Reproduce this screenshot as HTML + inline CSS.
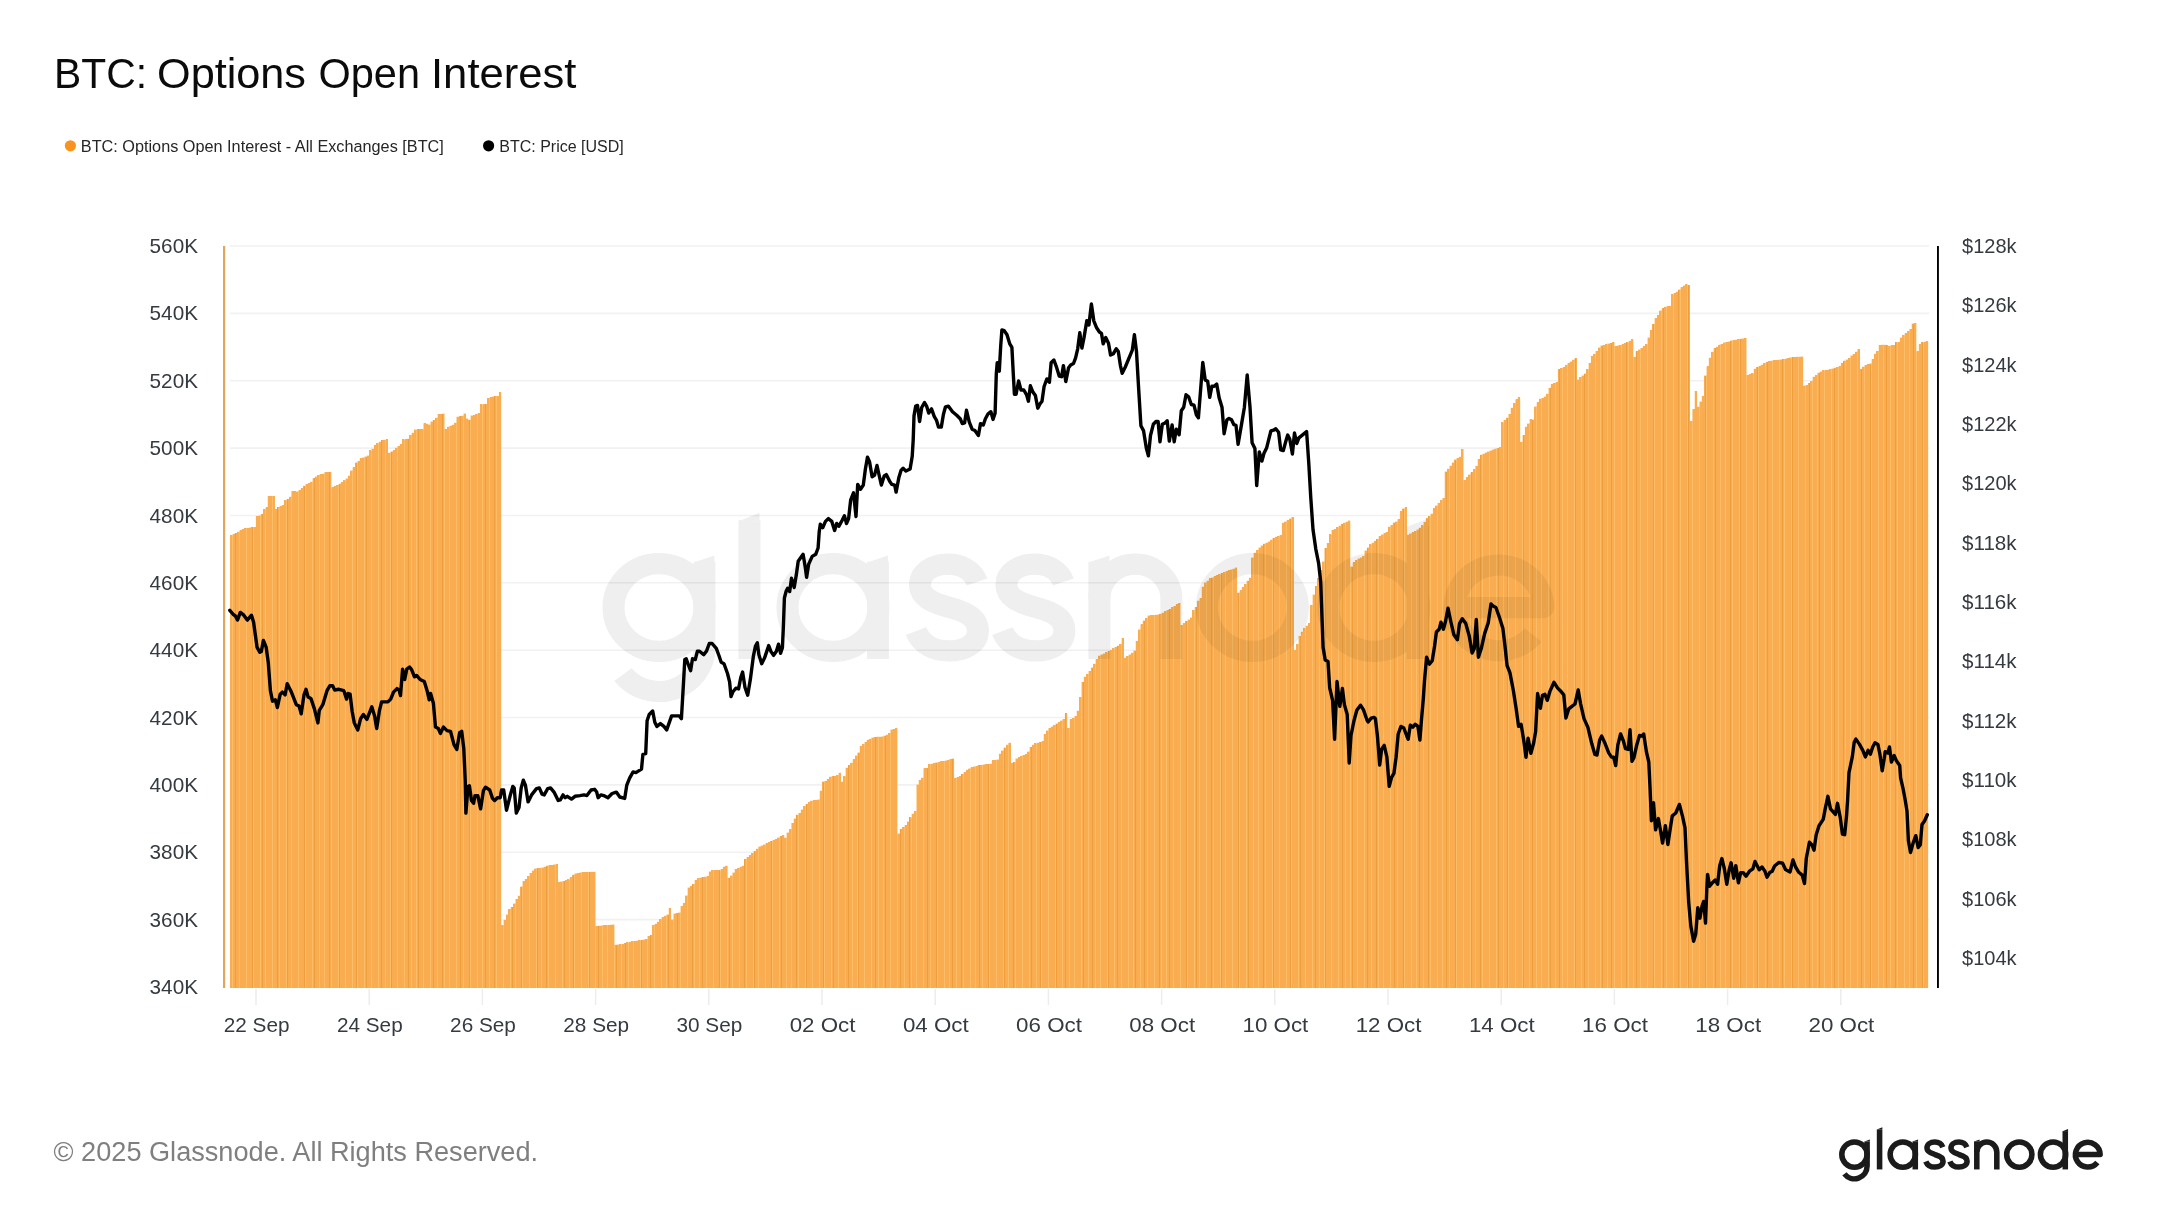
<!DOCTYPE html>
<html><head><meta charset="utf-8"><title>BTC: Options Open Interest</title>
<style>
html,body{margin:0;padding:0;background:#fff;}
body{width:2160px;height:1215px;overflow:hidden;font-family:"Liberation Sans",sans-serif;}
svg{position:absolute;left:0;top:0;display:block;will-change:transform}
text{font-family:"Liberation Sans",sans-serif;}
</style></head><body>
<svg width="2160" height="1215" viewBox="0 0 2160 1215">
<defs><symbol id="gn" viewBox="0 0 2160 648" overflow="visible">
<g fill="none" stroke="currentColor" stroke-linecap="butt" stroke-linejoin="round">
<circle cx="248" cy="321" r="91"/>
<path d="M339,226 V404 A91,91 0 0 1 176,460"/>
<path d="M429,140 V428"/>
<circle cx="596" cy="321" r="91"/>
<path d="M686,226 V428"/>
<path d="M884,268 C875,243 852,231 826,231 C795,231 770,248 770,274 C770,300 795,311 826,320 C860,329 886,341 886,369 C886,396 860,411 828,411 C796,411 772,396 762,370"/>
<path d="M1057,268 C1048,243 1025,231 999,231 C968,231 943,248 943,274 C943,300 968,311 999,320 C1033,329 1059,341 1059,369 C1059,396 1033,411 1001,411 C969,411 945,396 935,370"/>
<path d="M1129,226 V428"/>
<path d="M1129,303 A72,72 0 0 1 1273,303 V428"/>
<circle cx="1435" cy="321" r="91"/>
<circle cx="1678" cy="321" r="91"/>
<path d="M1766,152 V428"/>
<path d="M1841,321 H2017 A89,89 0 1 0 1997,378"/>
</g>
<g fill="currentColor" stroke="none">
<path d="M319,227 H359 V213 Z"/>
<path d="M409,141 H449 V125 Z"/>
<path d="M666,227 H706 V213 Z"/>
<path d="M1109,227 H1149 V213 Z"/>
<path d="M1746,153 H1786 V137 Z"/>
</g>
</symbol></defs>
<g font-size="42.7" fill="#0b0b0b">
<text x="54" y="87.5" textLength="93" lengthAdjust="spacingAndGlyphs">BTC:</text>
<text x="157" y="87.5" textLength="149" lengthAdjust="spacingAndGlyphs">Options</text>
<text x="318.5" y="87.5" textLength="101.5" lengthAdjust="spacingAndGlyphs">Open</text>
<text x="431" y="87.5" textLength="145.5" lengthAdjust="spacingAndGlyphs">Interest</text>
</g>
<circle cx="70.4" cy="145.8" r="5.6" fill="#f8931f"/>
<text x="80.8" y="151.5" font-size="17.1" fill="#262626" textLength="363" lengthAdjust="spacingAndGlyphs">BTC: Options Open Interest - All Exchanges [BTC]</text>
<circle cx="488.6" cy="145.8" r="5.6" fill="#000"/>
<text x="499.3" y="151.5" font-size="17.1" fill="#262626" textLength="124.5" lengthAdjust="spacingAndGlyphs">BTC: Price [USD]</text>
<g stroke="#f1f1f3" stroke-width="1.6"><line x1="230" x2="1929" y1="246" y2="246"/><line x1="230" x2="1929" y1="313.4" y2="313.4"/><line x1="230" x2="1929" y1="380.7" y2="380.7"/><line x1="230" x2="1929" y1="448.1" y2="448.1"/><line x1="230" x2="1929" y1="515.5" y2="515.5"/><line x1="230" x2="1929" y1="582.8" y2="582.8"/><line x1="230" x2="1929" y1="650.2" y2="650.2"/><line x1="230" x2="1929" y1="717.5" y2="717.5"/><line x1="230" x2="1929" y1="784.9" y2="784.9"/><line x1="230" x2="1929" y1="852.3" y2="852.3"/><line x1="230" x2="1929" y1="919.6" y2="919.6"/></g>
<g stroke="#ededf0" stroke-width="1.5"><line x1="256" x2="256" y1="989" y2="1005"/><line x1="369.2" x2="369.2" y1="989" y2="1005"/><line x1="482.4" x2="482.4" y1="989" y2="1005"/><line x1="595.6" x2="595.6" y1="989" y2="1005"/><line x1="708.8" x2="708.8" y1="989" y2="1005"/><line x1="822" x2="822" y1="989" y2="1005"/><line x1="935.2" x2="935.2" y1="989" y2="1005"/><line x1="1048.4" x2="1048.4" y1="989" y2="1005"/><line x1="1161.6" x2="1161.6" y1="989" y2="1005"/><line x1="1274.8" x2="1274.8" y1="989" y2="1005"/><line x1="1388" x2="1388" y1="989" y2="1005"/><line x1="1501.2" x2="1501.2" y1="989" y2="1005"/><line x1="1614.4" x2="1614.4" y1="989" y2="1005"/><line x1="1727.6" x2="1727.6" y1="989" y2="1005"/><line x1="1840.8" x2="1840.8" y1="989" y2="1005"/></g>
<g color="#000" opacity="0.009" stroke-width="44" transform="translate(535,452.8) scale(0.4999,0.482)"><use href="#gn" width="2160" height="648"/></g>
<path d="M230,988 V535.4 H232.4 V534.2 H234.7 V532.9 H237.1 V531.7 H239.4 V530.3 H241.8 V528.9 H244.2 V528.1 H246.5 V527.9 H248.9 V527.6 H251.2 V527.3 H253.6 V527 H255.9 V516.4 H258.3 V515.6 H260.7 V514.3 H263 V509.4 H265.4 V507.4 H267.7 V496 H270.1 V496 H272.5 V496 H274.8 V509.3 H277.2 V506.9 H279.5 V506.1 H281.9 V505.1 H284.2 V500.3 H286.6 V499 H289 V496.8 H291.3 V491.2 H293.7 V491.2 H296 V491.5 H298.4 V490.1 H300.8 V488.4 H303.1 V485.7 H305.5 V483.9 H307.8 V483.3 H310.2 V481.8 H312.6 V478.3 H314.9 V476.5 H317.3 V474.9 H319.6 V474.3 H322 V473.7 H324.3 V472.3 H326.7 V472.3 H329.1 V472.3 H331.4 V487.4 H333.8 V486.2 H336.1 V485 H338.5 V483.7 H340.9 V482.1 H343.2 V480.4 H345.6 V478.6 H347.9 V475.7 H350.3 V470.6 H352.6 V467.4 H355 V462.5 H357.4 V461.2 H359.7 V458.3 H362.1 V457.5 H364.4 V456.6 H366.8 V455.5 H369.2 V450.4 H371.5 V448.7 H373.9 V445 H376.2 V443.4 H378.6 V441.7 H381 V440.1 H383.3 V439.7 H385.7 V439.4 H388 V452.7 H390.4 V451.6 H392.7 V450.4 H395.1 V447.8 H397.5 V446.1 H399.8 V444.3 H402.2 V439.4 H404.5 V439.2 H406.9 V438.8 H409.3 V435.1 H411.6 V432.7 H414 V429.6 H416.3 V429.4 H418.7 V429.2 H421 V428.9 H423.4 V423.3 H425.8 V423.8 H428.1 V424.5 H430.5 V421.6 H432.8 V419.9 H435.2 V417.7 H437.6 V414.1 H439.9 V413.9 H442.3 V413.5 H444.6 V429.1 H447 V426.7 H449.4 V425.8 H451.7 V424.8 H454.1 V422.8 H456.4 V416.8 H458.8 V416.3 H461.1 V415.8 H463.5 V413.5 H465.9 V418.6 H468.2 V419.8 H470.6 V415.6 H472.9 V414.9 H475.3 V414.1 H477.7 V413.3 H480 V404.4 H482.4 V404.2 H484.7 V403.9 H487.1 V398.1 H489.4 V397.4 H491.8 V396.5 H494.2 V396 H496.5 V396 H498.9 V392.3 H501.2 V925 H503.6 V920.1 H506 V914.5 H508.3 V909 H510.7 V906.9 H513 V903.5 H515.4 V899 H517.8 V895.8 H520.1 V886.5 H522.5 V881 H524.8 V879 H527.2 V876.1 H529.5 V873.1 H531.9 V870.6 H534.3 V868.5 H536.6 V868.2 H539 V867.9 H541.3 V867.5 H543.7 V866.8 H546.1 V865.8 H548.4 V865.2 H550.8 V864.9 H553.1 V864.6 H555.5 V864.3 H557.8 V882.1 H560.2 V881.6 H562.6 V881 H564.9 V880.2 H567.3 V879.4 H569.6 V877.4 H572 V874.7 H574.4 V873.6 H576.7 V872.9 H579.1 V872.6 H581.4 V872.3 H583.8 V872 H586.2 V871.9 H588.5 V871.9 H590.9 V871.8 H593.2 V871.7 H595.6 V926.1 H597.9 V925.8 H600.3 V925.6 H602.7 V925.3 H605 V925.2 H607.4 V925 H609.7 V924.8 H612.1 V924.6 H614.5 V944.8 H616.8 V944.5 H619.2 V944.3 H621.5 V944 H623.9 V943.2 H626.2 V942.4 H628.6 V941.7 H631 V941.3 H633.3 V941 H635.7 V940.7 H638 V940.3 H640.4 V939.9 H642.8 V939.5 H645.1 V939.1 H647.5 V936 H649.8 V934.9 H652.2 V925.1 H654.6 V923.7 H656.9 V921.8 H659.3 V919.1 H661.6 V917 H664 V915.8 H666.3 V914.5 H668.7 V908 H671.1 V919.5 H673.4 V913.5 H675.8 V913 H678.1 V912.5 H680.5 V906.1 H682.9 V903.2 H685.2 V895.6 H687.6 V887.5 H689.9 V886.2 H692.3 V884 H694.6 V880.1 H697 V878.1 H699.4 V877.6 H701.7 V877.2 H704.1 V876.7 H706.4 V876.2 H708.8 V871.6 H711.2 V869.9 H713.5 V870 H715.9 V870.1 H718.2 V870.2 H720.6 V869.2 H722.9 V866.7 H725.3 V865.7 H727.7 V877.7 H730 V875.5 H732.4 V872.5 H734.7 V869 H737.1 V867.9 H739.5 V866.8 H741.8 V865.7 H744.2 V859.2 H746.5 V856.9 H748.9 V854.9 H751.3 V853 H753.6 V851.1 H756 V848.8 H758.3 V846.6 H760.7 V845.6 H763 V844.6 H765.4 V843.4 H767.8 V842.4 H770.1 V841.2 H772.5 V840.1 H774.8 V838.9 H777.2 V837.6 H779.6 V836.3 H781.9 V835 H784.3 V837.7 H786.6 V832.6 H789 V829 H791.3 V823 H793.7 V818.6 H796.1 V814.7 H798.4 V812.9 H800.8 V809.5 H803.1 V806.2 H805.5 V804.2 H807.9 V802.4 H810.2 V800.7 H812.6 V800.4 H814.9 V800 H817.3 V799.6 H819.7 V790.7 H822 V781.5 H824.4 V780.9 H826.7 V779.3 H829.1 V776.8 H831.4 V776.4 H833.8 V776 H836.2 V775.3 H838.5 V772.8 H840.9 V781.7 H843.2 V776.3 H845.6 V767.8 H848 V765.1 H850.3 V762.7 H852.7 V759.4 H855 V755.5 H857.4 V752.5 H859.7 V746.1 H862.1 V744.2 H864.5 V742 H866.8 V739.8 H869.2 V738.8 H871.5 V737.5 H873.9 V737.2 H876.3 V736.7 H878.6 V736.7 H881 V736.5 H883.3 V735.7 H885.7 V734.8 H888.1 V732.9 H890.4 V729.5 H892.8 V728.9 H895.1 V728.3 H897.5 V833.6 H899.8 V829 H902.2 V827 H904.6 V824.9 H906.9 V821.6 H909.3 V817.4 H911.6 V813.7 H914 V811.2 H916.4 V784.6 H918.7 V780.1 H921.1 V777.7 H923.4 V768.4 H925.8 V767.9 H928.1 V764.2 H930.5 V763.7 H932.9 V763 H935.2 V762.6 H937.6 V762.1 H939.9 V761.3 H942.3 V761 H944.7 V760.5 H947 V760 H949.4 V759.1 H951.7 V758.5 H954.1 V777.9 H956.5 V777.1 H958.8 V775.9 H961.2 V774.2 H963.5 V772.3 H965.9 V769.7 H968.2 V768.5 H970.6 V767.4 H973 V766.5 H975.3 V766 H977.7 V765.2 H980 V765 H982.4 V764.6 H984.8 V764.1 H987.1 V764 H989.5 V763.8 H991.8 V760.4 H994.2 V760 H996.5 V759.5 H998.9 V753.8 H1001.3 V750.6 H1003.6 V747.6 H1006 V744.8 H1008.3 V742.7 H1010.7 V763.3 H1013.1 V762.2 H1015.4 V758.5 H1017.8 V757.3 H1020.1 V756 H1022.5 V755.1 H1024.9 V754 H1027.2 V751.6 H1029.6 V747.2 H1031.9 V744.8 H1034.3 V743.4 H1036.6 V742.7 H1039 V742.1 H1041.4 V741.4 H1043.7 V734.1 H1046.1 V730.6 H1048.4 V728.1 H1050.8 V726.6 H1053.2 V725.1 H1055.5 V723.5 H1057.9 V722 H1060.2 V720.5 H1062.6 V719 H1064.9 V713.4 H1067.3 V728.1 H1069.7 V719.3 H1072 V718 H1074.4 V716.2 H1076.7 V710.7 H1079.1 V697.2 H1081.5 V682.1 H1083.8 V676.7 H1086.2 V674 H1088.5 V671 H1090.9 V667.5 H1093.3 V663.7 H1095.6 V659.2 H1098 V655.7 H1100.3 V654.6 H1102.7 V653.6 H1105 V652.4 H1107.4 V651.2 H1109.8 V649.9 H1112.1 V648.4 H1114.5 V647 H1116.8 V645.8 H1119.2 V644.2 H1121.6 V638.3 H1123.9 V657.8 H1126.3 V656.1 H1128.6 V654.5 H1131 V652.7 H1133.3 V650.5 H1135.7 V641.1 H1138.1 V629.6 H1140.4 V624.4 H1142.8 V620.6 H1145.1 V618.3 H1147.5 V615.5 H1149.9 V615.3 H1152.2 V615.1 H1154.6 V614.8 H1156.9 V614.5 H1159.3 V613.8 H1161.7 V612.7 H1164 V611.3 H1166.4 V610.3 H1168.7 V608.9 H1171.1 V607.1 H1173.4 V606 H1175.8 V604.4 H1178.2 V602.9 H1180.5 V624.9 H1182.9 V623 H1185.2 V621.2 H1187.6 V619.6 H1190 V617.6 H1192.3 V610.3 H1194.7 V607.1 H1197 V600.7 H1199.4 V598.3 H1201.7 V586.8 H1204.1 V582.5 H1206.5 V580.7 H1208.8 V578.4 H1211.2 V577.6 H1213.5 V576.4 H1215.9 V574.9 H1218.3 V574.2 H1220.6 V573.2 H1223 V572.2 H1225.3 V571.3 H1227.7 V570.4 H1230.1 V569.5 H1232.4 V568.7 H1234.8 V567.6 H1237.1 V592.8 H1239.5 V590.4 H1241.8 V587.4 H1244.2 V583.9 H1246.6 V580.8 H1248.9 V577.8 H1251.3 V557.6 H1253.6 V552.7 H1256 V549.9 H1258.4 V547.5 H1260.7 V545.5 H1263.1 V543.8 H1265.4 V542.8 H1267.8 V541.6 H1270.1 V539.7 H1272.5 V537.9 H1274.9 V536.7 H1277.2 V535.9 H1279.6 V535.1 H1281.9 V522.8 H1284.3 V521.5 H1286.7 V520.1 H1289 V518.6 H1291.4 V517 H1293.7 V649.9 H1296.1 V644.3 H1298.5 V635.9 H1300.8 V631.8 H1303.2 V628.2 H1305.5 V625.8 H1307.9 V623.2 H1310.2 V604.9 H1312.6 V594.6 H1315 V586.4 H1317.3 V578.2 H1319.7 V570.3 H1322 V561.6 H1324.4 V548 H1326.8 V543 H1329.1 V534.4 H1331.5 V530.2 H1333.8 V528.9 H1336.2 V527.4 H1338.5 V525.7 H1340.9 V523.9 H1343.3 V522.8 H1345.6 V521.7 H1348 V520.5 H1350.3 V566.6 H1352.7 V562.3 H1355.1 V560.2 H1357.4 V558.5 H1359.8 V557.5 H1362.1 V556.1 H1364.5 V550.5 H1366.9 V547.6 H1369.2 V544.4 H1371.6 V542.8 H1373.9 V541.1 H1376.3 V539.1 H1378.6 V536.4 H1381 V534.5 H1383.4 V533.3 H1385.7 V532.1 H1388.1 V526.7 H1390.4 V525.1 H1392.8 V522.5 H1395.2 V521.5 H1397.5 V519.3 H1399.9 V511.4 H1402.2 V508.6 H1404.6 V507.4 H1406.9 V534.7 H1409.3 V533.5 H1411.7 V532.3 H1414 V531 H1416.4 V529.5 H1418.7 V527.8 H1421.1 V525.4 H1423.5 V521.9 H1425.8 V518 H1428.2 V516.3 H1430.5 V513.7 H1432.9 V507.9 H1435.3 V505.6 H1437.6 V503 H1440 V500.2 H1442.3 V498.3 H1444.7 V471.5 H1447 V468.8 H1449.4 V465.8 H1451.8 V462.6 H1454.1 V459.5 H1456.5 V458.1 H1458.8 V456.7 H1461.2 V449.1 H1463.6 V480 H1465.9 V477 H1468.3 V474.6 H1470.6 V472.2 H1473 V469.3 H1475.3 V465.9 H1477.7 V458.9 H1480.1 V454.7 H1482.4 V453.7 H1484.8 V452.6 H1487.1 V451.5 H1489.5 V450.5 H1491.9 V449.6 H1494.2 V448.7 H1496.6 V447.9 H1498.9 V447 H1501.3 V422.4 H1503.6 V420.1 H1506 V417.7 H1508.4 V413.9 H1510.7 V407.7 H1513.1 V403 H1515.4 V399.4 H1517.8 V397.3 H1520.2 V442.1 H1522.5 V435.2 H1524.9 V426.7 H1527.2 V423.6 H1529.6 V419 H1532 V419.5 H1534.3 V406.5 H1536.7 V402.4 H1539 V398.7 H1541.4 V398 H1543.7 V396.6 H1546.1 V393.8 H1548.5 V387.7 H1550.8 V384 H1553.2 V383 H1555.5 V381.9 H1557.9 V368.9 H1560.3 V368.1 H1562.6 V367.2 H1565 V365.4 H1567.3 V363.4 H1569.7 V361.5 H1572 V359.8 H1574.4 V358.4 H1576.8 V379.5 H1579.1 V377 H1581.5 V375.6 H1583.8 V373.5 H1586.2 V369.2 H1588.6 V363 H1590.9 V355.9 H1593.3 V354.1 H1595.6 V351 H1598 V347.5 H1600.4 V345.6 H1602.7 V345.1 H1605.1 V344.3 H1607.4 V343.5 H1609.8 V342.9 H1612.1 V342.1 H1614.5 V346 H1616.9 V345.6 H1619.2 V345.1 H1621.6 V344.3 H1623.9 V343.3 H1626.3 V342.2 H1628.7 V340.8 H1631 V339.4 H1633.4 V357.1 H1635.7 V351.2 H1638.1 V349.6 H1640.4 V347.9 H1642.8 V346.3 H1645.2 V344.2 H1647.5 V337.6 H1649.9 V330 H1652.2 V323.9 H1654.6 V318.3 H1657 V314.9 H1659.3 V310.6 H1661.7 V308.4 H1664 V306.7 H1666.4 V306.4 H1668.8 V306.2 H1671.1 V294.2 H1673.5 V293 H1675.8 V291.7 H1678.2 V289.6 H1680.5 V287.3 H1682.9 V285.5 H1685.3 V284.3 H1687.6 V284.9 H1690 V421.1 H1692.3 V409.2 H1694.7 V391 H1697.1 V406.7 H1699.4 V401.5 H1701.8 V395.9 H1704.1 V375.6 H1706.5 V366.4 H1708.8 V357.8 H1711.2 V351.7 H1713.6 V348.4 H1715.9 V346.7 H1718.3 V344.8 H1720.6 V343.9 H1723 V342.6 H1725.4 V342.1 H1727.7 V341.5 H1730.1 V340.6 H1732.4 V340.2 H1734.8 V339.7 H1737.2 V339 H1739.5 V338.8 H1741.9 V338.5 H1744.2 V338.1 H1746.6 V375.1 H1748.9 V374.3 H1751.3 V373.4 H1753.7 V368.8 H1756 V367.3 H1758.4 V365.9 H1760.7 V364.7 H1763.1 V363.3 H1765.5 V362.4 H1767.8 V361.1 H1770.2 V360.8 H1772.5 V360.4 H1774.9 V360 H1777.2 V359.8 H1779.6 V359.6 H1782 V359.3 H1784.3 V358.7 H1786.7 V358.1 H1789 V357.6 H1791.4 V357.3 H1793.8 V357 H1796.1 V356.8 H1798.5 V356.7 H1800.8 V356.6 H1803.2 V385.6 H1805.6 V385.2 H1807.9 V383.4 H1810.3 V380.9 H1812.6 V376.8 H1815 V375.2 H1817.3 V372.8 H1819.7 V371.5 H1822.1 V370.4 H1824.4 V370.1 H1826.8 V369.7 H1829.1 V369.3 H1831.5 V368.6 H1833.9 V367.8 H1836.2 V367.1 H1838.6 V366.1 H1840.9 V363.4 H1843.3 V360.7 H1845.6 V359.5 H1848 V358.1 H1850.4 V355.5 H1852.7 V353.9 H1855.1 V351.8 H1857.4 V349.3 H1859.8 V368.9 H1862.2 V366.7 H1864.5 V365 H1866.9 V364.1 H1869.2 V363.6 H1871.6 V359.2 H1874 V353.7 H1876.3 V351 H1878.7 V345.3 H1881 V344.8 H1883.4 V344.8 H1885.7 V345.3 H1888.1 V345.7 H1890.5 V345.4 H1892.8 V345.1 H1895.2 V342.4 H1897.5 V342.1 H1899.9 V337.6 H1902.3 V335.3 H1904.6 V333.2 H1907 V330.9 H1909.3 V328.9 H1911.7 V323.6 H1914 V323 H1916.4 V351.3 H1918.8 V344 H1921.1 V342.4 H1923.5 V341.7 H1925.8 V341.2 H1928.2 V988 Z" fill="#fdbd66"/>
<path d="M230,988V535.4h2V988zM233,988V534.2h2V988zM235,988V532.9h2V988zM237,988V531.7h2V988zM240,988V530.3h2V988zM242,988V528.9h2V988zM244,988V528.1h2V988zM247,988V527.9h2V988zM249,988V527.6h2V988zM251,988V527.3h2V988zM254,988V527h2V988zM256,988V516.4h2V988zM258,988V515.6h2V988zM261,988V514.3h2V988zM263,988V509.4h2V988zM266,988V507.4h2V988zM268,988V496h2V988zM270,988V496h2V988zM273,988V496h2V988zM275,988V509.3h2V988zM277,988V506.9h2V988zM280,988V506.1h2V988zM282,988V505.1h2V988zM284,988V500.3h2V988zM287,988V499h2V988zM289,988V496.8h2V988zM292,988V491.2h2V988zM294,988V491.2h2V988zM296,988V491.5h2V988zM299,988V490.1h2V988zM301,988V488.4h2V988zM303,988V485.7h2V988zM306,988V483.9h2V988zM308,988V483.3h2V988zM310,988V481.8h2V988zM313,988V478.3h2V988zM315,988V476.5h2V988zM317,988V474.9h2V988zM320,988V474.3h2V988zM322,988V473.7h2V988zM325,988V472.3h2V988zM327,988V472.3h2V988zM329,988V472.3h2V988zM332,988V487.4h2V988zM334,988V486.2h2V988zM336,988V485h2V988zM339,988V483.7h2V988zM341,988V482.1h2V988zM343,988V480.4h2V988zM346,988V478.6h2V988zM348,988V475.7h2V988zM350,988V470.6h2V988zM353,988V467.4h2V988zM355,988V462.5h2V988zM358,988V461.2h2V988zM360,988V458.3h2V988zM362,988V457.5h2V988zM365,988V456.6h2V988zM367,988V455.5h2V988zM369,988V450.4h2V988zM372,988V448.7h2V988zM374,988V445h2V988zM376,988V443.4h2V988zM379,988V441.7h2V988zM381,988V440.1h2V988zM383,988V439.7h2V988zM386,988V439.4h2V988zM388,988V452.7h2V988zM391,988V451.6h2V988zM393,988V450.4h2V988zM395,988V447.8h2V988zM398,988V446.1h2V988zM400,988V444.3h2V988zM402,988V439.4h2V988zM405,988V439.2h2V988zM407,988V438.8h2V988zM409,988V435.1h2V988zM412,988V432.7h2V988zM414,988V429.6h2V988zM417,988V429.4h2V988zM419,988V429.2h2V988zM421,988V428.9h2V988zM424,988V423.3h2V988zM426,988V423.8h2V988zM428,988V424.5h2V988zM431,988V421.6h2V988zM433,988V419.9h2V988zM435,988V417.7h2V988zM438,988V414.1h2V988zM440,988V413.9h2V988zM442,988V413.5h2V988zM445,988V429.1h2V988zM447,988V426.7h2V988zM450,988V425.8h2V988zM452,988V424.8h2V988zM454,988V422.8h2V988zM457,988V416.8h2V988zM459,988V416.3h2V988zM461,988V415.8h2V988zM464,988V413.5h2V988zM466,988V418.6h2V988zM468,988V419.8h2V988zM471,988V415.6h2V988zM473,988V414.9h2V988zM475,988V414.1h2V988zM478,988V413.3h2V988zM480,988V404.4h2V988zM483,988V404.2h2V988zM485,988V403.9h2V988zM487,988V398.1h2V988zM490,988V397.4h2V988zM492,988V396.5h2V988zM494,988V396h2V988zM497,988V396h2V988zM499,988V392.3h2V988zM501,988V925h2V988zM504,988V920.1h2V988zM506,988V914.5h2V988zM508,988V909h2V988zM511,988V906.9h2V988zM513,988V903.5h2V988zM516,988V899h2V988zM518,988V895.8h2V988zM520,988V886.5h2V988zM523,988V881h2V988zM525,988V879h2V988zM527,988V876.1h2V988zM530,988V873.1h2V988zM532,988V870.6h2V988zM534,988V868.5h2V988zM537,988V868.2h2V988zM539,988V867.9h2V988zM542,988V867.5h2V988zM544,988V866.8h2V988zM546,988V865.8h2V988zM549,988V865.2h2V988zM551,988V864.9h2V988zM553,988V864.6h2V988zM556,988V864.3h2V988zM558,988V882.1h2V988zM560,988V881.6h2V988zM563,988V881h2V988zM565,988V880.2h2V988zM567,988V879.4h2V988zM570,988V877.4h2V988zM572,988V874.7h2V988zM575,988V873.6h2V988zM577,988V872.9h2V988zM579,988V872.6h2V988zM582,988V872.3h2V988zM584,988V872h2V988zM586,988V871.9h2V988zM589,988V871.9h2V988zM591,988V871.8h2V988zM593,988V871.7h2V988zM596,988V926.1h2V988zM598,988V925.8h2V988zM600,988V925.6h2V988zM603,988V925.3h2V988zM605,988V925.2h2V988zM608,988V925h2V988zM610,988V924.8h2V988zM612,988V924.6h2V988zM615,988V944.8h2V988zM617,988V944.5h2V988zM619,988V944.3h2V988zM622,988V944h2V988zM624,988V943.2h2V988zM626,988V942.4h2V988zM629,988V941.7h2V988zM631,988V941.3h2V988zM634,988V941h2V988zM636,988V940.7h2V988zM638,988V940.3h2V988zM641,988V939.9h2V988zM643,988V939.5h2V988zM645,988V939.1h2V988zM648,988V936h2V988zM650,988V934.9h2V988zM652,988V925.1h2V988zM655,988V923.7h2V988zM657,988V921.8h2V988zM659,988V919.1h2V988zM662,988V917h2V988zM664,988V915.8h2V988zM667,988V914.5h2V988zM669,988V908h2V988zM671,988V919.5h2V988zM674,988V913.5h2V988zM676,988V913h2V988zM678,988V912.5h2V988zM681,988V906.1h2V988zM683,988V903.2h2V988zM685,988V895.6h2V988zM688,988V887.5h2V988zM690,988V886.2h2V988zM692,988V884h2V988zM695,988V880.1h2V988zM697,988V878.1h2V988zM700,988V877.6h2V988zM702,988V877.2h2V988zM704,988V876.7h2V988zM707,988V876.2h2V988zM709,988V871.6h2V988zM711,988V869.9h2V988zM714,988V870h2V988zM716,988V870.1h2V988zM718,988V870.2h2V988zM721,988V869.2h2V988zM723,988V866.7h2V988zM725,988V865.7h2V988zM728,988V877.7h2V988zM730,988V875.5h2V988zM733,988V872.5h2V988zM735,988V869h2V988zM737,988V867.9h2V988zM740,988V866.8h2V988zM742,988V865.7h2V988zM744,988V859.2h2V988zM747,988V856.9h2V988zM749,988V854.9h2V988zM751,988V853h2V988zM754,988V851.1h2V988zM756,988V848.8h2V988zM759,988V846.6h2V988zM761,988V845.6h2V988zM763,988V844.6h2V988zM766,988V843.4h2V988zM768,988V842.4h2V988zM770,988V841.2h2V988zM773,988V840.1h2V988zM775,988V838.9h2V988zM777,988V837.6h2V988zM780,988V836.3h2V988zM782,988V835h2V988zM784,988V837.7h2V988zM787,988V832.6h2V988zM789,988V829h2V988zM792,988V823h2V988zM794,988V818.6h2V988zM796,988V814.7h2V988zM799,988V812.9h2V988zM801,988V809.5h2V988zM803,988V806.2h2V988zM806,988V804.2h2V988zM808,988V802.4h2V988zM810,988V800.7h2V988zM813,988V800.4h2V988zM815,988V800h2V988zM817,988V799.6h2V988zM820,988V790.7h2V988zM822,988V781.5h2V988zM825,988V780.9h2V988zM827,988V779.3h2V988zM829,988V776.8h2V988zM832,988V776.4h2V988zM834,988V776h2V988zM836,988V775.3h2V988zM839,988V772.8h2V988zM841,988V781.7h2V988zM843,988V776.3h2V988zM846,988V767.8h2V988zM848,988V765.1h2V988zM850,988V762.7h2V988zM853,988V759.4h2V988zM855,988V755.5h2V988zM858,988V752.5h2V988zM860,988V746.1h2V988zM862,988V744.2h2V988zM865,988V742h2V988zM867,988V739.8h2V988zM869,988V738.8h2V988zM872,988V737.5h2V988zM874,988V737.2h2V988zM876,988V736.7h2V988zM879,988V736.7h2V988zM881,988V736.5h2V988zM884,988V735.7h2V988zM886,988V734.8h2V988zM888,988V732.9h2V988zM891,988V729.5h2V988zM893,988V728.9h2V988zM895,988V728.3h2V988zM898,988V833.6h2V988zM900,988V829h2V988zM902,988V827h2V988zM905,988V824.9h2V988zM907,988V821.6h2V988zM909,988V817.4h2V988zM912,988V813.7h2V988zM914,988V811.2h2V988zM917,988V784.6h2V988zM919,988V780.1h2V988zM921,988V777.7h2V988zM924,988V768.4h2V988zM926,988V767.9h2V988zM928,988V764.2h2V988zM931,988V763.7h2V988zM933,988V763h2V988zM935,988V762.6h2V988zM938,988V762.1h2V988zM940,988V761.3h2V988zM942,988V761h2V988zM945,988V760.5h2V988zM947,988V760h2V988zM950,988V759.1h2V988zM952,988V758.5h2V988zM954,988V777.9h2V988zM957,988V777.1h2V988zM959,988V775.9h2V988zM961,988V774.2h2V988zM964,988V772.3h2V988zM966,988V769.7h2V988zM968,988V768.5h2V988zM971,988V767.4h2V988zM973,988V766.5h2V988zM976,988V766h2V988zM978,988V765.2h2V988zM980,988V765h2V988zM983,988V764.6h2V988zM985,988V764.1h2V988zM987,988V764h2V988zM990,988V763.8h2V988zM992,988V760.4h2V988zM994,988V760h2V988zM997,988V759.5h2V988zM999,988V753.8h2V988zM1001,988V750.6h2V988zM1004,988V747.6h2V988zM1006,988V744.8h2V988zM1009,988V742.7h2V988zM1011,988V763.3h2V988zM1013,988V762.2h2V988zM1016,988V758.5h2V988zM1018,988V757.3h2V988zM1020,988V756h2V988zM1023,988V755.1h2V988zM1025,988V754h2V988zM1027,988V751.6h2V988zM1030,988V747.2h2V988zM1032,988V744.8h2V988zM1034,988V743.4h2V988zM1037,988V742.7h2V988zM1039,988V742.1h2V988zM1042,988V741.4h2V988zM1044,988V734.1h2V988zM1046,988V730.6h2V988zM1049,988V728.1h2V988zM1051,988V726.6h2V988zM1053,988V725.1h2V988zM1056,988V723.5h2V988zM1058,988V722h2V988zM1060,988V720.5h2V988zM1063,988V719h2V988zM1065,988V713.4h2V988zM1067,988V728.1h2V988zM1070,988V719.3h2V988zM1072,988V718h2V988zM1075,988V716.2h2V988zM1077,988V710.7h2V988zM1079,988V697.2h2V988zM1082,988V682.1h2V988zM1084,988V676.7h2V988zM1086,988V674h2V988zM1089,988V671h2V988zM1091,988V667.5h2V988zM1093,988V663.7h2V988zM1096,988V659.2h2V988zM1098,988V655.7h2V988zM1101,988V654.6h2V988zM1103,988V653.6h2V988zM1105,988V652.4h2V988zM1108,988V651.2h2V988zM1110,988V649.9h2V988zM1112,988V648.4h2V988zM1115,988V647h2V988zM1117,988V645.8h2V988zM1119,988V644.2h2V988zM1122,988V638.3h2V988zM1124,988V657.8h2V988zM1126,988V656.1h2V988zM1129,988V654.5h2V988zM1131,988V652.7h2V988zM1134,988V650.5h2V988zM1136,988V641.1h2V988zM1138,988V629.6h2V988zM1141,988V624.4h2V988zM1143,988V620.6h2V988zM1145,988V618.3h2V988zM1148,988V615.5h2V988zM1150,988V615.3h2V988zM1152,988V615.1h2V988zM1155,988V614.8h2V988zM1157,988V614.5h2V988zM1159,988V613.8h2V988zM1162,988V612.7h2V988zM1164,988V611.3h2V988zM1167,988V610.3h2V988zM1169,988V608.9h2V988zM1171,988V607.1h2V988zM1174,988V606h2V988zM1176,988V604.4h2V988zM1178,988V602.9h2V988zM1181,988V624.9h2V988zM1183,988V623h2V988zM1185,988V621.2h2V988zM1188,988V619.6h2V988zM1190,988V617.6h2V988zM1192,988V610.3h2V988zM1195,988V607.1h2V988zM1197,988V600.7h2V988zM1200,988V598.3h2V988zM1202,988V586.8h2V988zM1204,988V582.5h2V988zM1207,988V580.7h2V988zM1209,988V578.4h2V988zM1211,988V577.6h2V988zM1214,988V576.4h2V988zM1216,988V574.9h2V988zM1218,988V574.2h2V988zM1221,988V573.2h2V988zM1223,988V572.2h2V988zM1226,988V571.3h2V988zM1228,988V570.4h2V988zM1230,988V569.5h2V988zM1233,988V568.7h2V988zM1235,988V567.6h2V988zM1237,988V592.8h2V988zM1240,988V590.4h2V988zM1242,988V587.4h2V988zM1244,988V583.9h2V988zM1247,988V580.8h2V988zM1249,988V577.8h2V988zM1251,988V557.6h2V988zM1254,988V552.7h2V988zM1256,988V549.9h2V988zM1259,988V547.5h2V988zM1261,988V545.5h2V988zM1263,988V543.8h2V988zM1266,988V542.8h2V988zM1268,988V541.6h2V988zM1270,988V539.7h2V988zM1273,988V537.9h2V988zM1275,988V536.7h2V988zM1277,988V535.9h2V988zM1280,988V535.1h2V988zM1282,988V522.8h2V988zM1284,988V521.5h2V988zM1287,988V520.1h2V988zM1289,988V518.6h2V988zM1292,988V517h2V988zM1294,988V649.9h2V988zM1296,988V644.3h2V988zM1299,988V635.9h2V988zM1301,988V631.8h2V988zM1303,988V628.2h2V988zM1306,988V625.8h2V988zM1308,988V623.2h2V988zM1310,988V604.9h2V988zM1313,988V594.6h2V988zM1315,988V586.4h2V988zM1317,988V578.2h2V988zM1320,988V570.3h2V988zM1322,988V561.6h2V988zM1325,988V548h2V988zM1327,988V543h2V988zM1329,988V534.4h2V988zM1332,988V530.2h2V988zM1334,988V528.9h2V988zM1336,988V527.4h2V988zM1339,988V525.7h2V988zM1341,988V523.9h2V988zM1343,988V522.8h2V988zM1346,988V521.7h2V988zM1348,988V520.5h2V988zM1351,988V566.6h2V988zM1353,988V562.3h2V988zM1355,988V560.2h2V988zM1358,988V558.5h2V988zM1360,988V557.5h2V988zM1362,988V556.1h2V988zM1365,988V550.5h2V988zM1367,988V547.6h2V988zM1369,988V544.4h2V988zM1372,988V542.8h2V988zM1374,988V541.1h2V988zM1376,988V539.1h2V988zM1379,988V536.4h2V988zM1381,988V534.5h2V988zM1384,988V533.3h2V988zM1386,988V532.1h2V988zM1388,988V526.7h2V988zM1391,988V525.1h2V988zM1393,988V522.5h2V988zM1395,988V521.5h2V988zM1398,988V519.3h2V988zM1400,988V511.4h2V988zM1402,988V508.6h2V988zM1405,988V507.4h2V988zM1407,988V534.7h2V988zM1409,988V533.5h2V988zM1412,988V532.3h2V988zM1414,988V531h2V988zM1417,988V529.5h2V988zM1419,988V527.8h2V988zM1421,988V525.4h2V988zM1424,988V521.9h2V988zM1426,988V518h2V988zM1428,988V516.3h2V988zM1431,988V513.7h2V988zM1433,988V507.9h2V988zM1435,988V505.6h2V988zM1438,988V503h2V988zM1440,988V500.2h2V988zM1443,988V498.3h2V988zM1445,988V471.5h2V988zM1447,988V468.8h2V988zM1450,988V465.8h2V988zM1452,988V462.6h2V988zM1454,988V459.5h2V988zM1457,988V458.1h2V988zM1459,988V456.7h2V988zM1461,988V449.1h2V988zM1464,988V480h2V988zM1466,988V477h2V988zM1468,988V474.6h2V988zM1471,988V472.2h2V988zM1473,988V469.3h2V988zM1476,988V465.9h2V988zM1478,988V458.9h2V988zM1480,988V454.7h2V988zM1483,988V453.7h2V988zM1485,988V452.6h2V988zM1487,988V451.5h2V988zM1490,988V450.5h2V988zM1492,988V449.6h2V988zM1494,988V448.7h2V988zM1497,988V447.9h2V988zM1499,988V447h2V988zM1501,988V422.4h2V988zM1504,988V420.1h2V988zM1506,988V417.7h2V988zM1509,988V413.9h2V988zM1511,988V407.7h2V988zM1513,988V403h2V988zM1516,988V399.4h2V988zM1518,988V397.3h2V988zM1520,988V442.1h2V988zM1523,988V435.2h2V988zM1525,988V426.7h2V988zM1527,988V423.6h2V988zM1530,988V419h2V988zM1532,988V419.5h2V988zM1534,988V406.5h2V988zM1537,988V402.4h2V988zM1539,988V398.7h2V988zM1542,988V398h2V988zM1544,988V396.6h2V988zM1546,988V393.8h2V988zM1549,988V387.7h2V988zM1551,988V384h2V988zM1553,988V383h2V988zM1556,988V381.9h2V988zM1558,988V368.9h2V988zM1560,988V368.1h2V988zM1563,988V367.2h2V988zM1565,988V365.4h2V988zM1568,988V363.4h2V988zM1570,988V361.5h2V988zM1572,988V359.8h2V988zM1575,988V358.4h2V988zM1577,988V379.5h2V988zM1579,988V377h2V988zM1582,988V375.6h2V988zM1584,988V373.5h2V988zM1586,988V369.2h2V988zM1589,988V363h2V988zM1591,988V355.9h2V988zM1593,988V354.1h2V988zM1596,988V351h2V988zM1598,988V347.5h2V988zM1601,988V345.6h2V988zM1603,988V345.1h2V988zM1605,988V344.3h2V988zM1608,988V343.5h2V988zM1610,988V342.9h2V988zM1612,988V342.1h2V988zM1615,988V346h2V988zM1617,988V345.6h2V988zM1619,988V345.1h2V988zM1622,988V344.3h2V988zM1624,988V343.3h2V988zM1626,988V342.2h2V988zM1629,988V340.8h2V988zM1631,988V339.4h2V988zM1634,988V357.1h2V988zM1636,988V351.2h2V988zM1638,988V349.6h2V988zM1641,988V347.9h2V988zM1643,988V346.3h2V988zM1645,988V344.2h2V988zM1648,988V337.6h2V988zM1650,988V330h2V988zM1652,988V323.9h2V988zM1655,988V318.3h2V988zM1657,988V314.9h2V988zM1659,988V310.6h2V988zM1662,988V308.4h2V988zM1664,988V306.7h2V988zM1667,988V306.4h2V988zM1669,988V306.2h2V988zM1671,988V294.2h2V988zM1674,988V293h2V988zM1676,988V291.7h2V988zM1678,988V289.6h2V988zM1681,988V287.3h2V988zM1683,988V285.5h2V988zM1685,988V284.3h2V988zM1688,988V284.9h2V988zM1690,988V421.1h2V988zM1693,988V409.2h2V988zM1695,988V391h2V988zM1697,988V406.7h2V988zM1700,988V401.5h2V988zM1702,988V395.9h2V988zM1704,988V375.6h2V988zM1707,988V366.4h2V988zM1709,988V357.8h2V988zM1711,988V351.7h2V988zM1714,988V348.4h2V988zM1716,988V346.7h2V988zM1718,988V344.8h2V988zM1721,988V343.9h2V988zM1723,988V342.6h2V988zM1726,988V342.1h2V988zM1728,988V341.5h2V988zM1730,988V340.6h2V988zM1733,988V340.2h2V988zM1735,988V339.7h2V988zM1737,988V339h2V988zM1740,988V338.8h2V988zM1742,988V338.5h2V988zM1744,988V338.1h2V988zM1747,988V375.1h2V988zM1749,988V374.3h2V988zM1751,988V373.4h2V988zM1754,988V368.8h2V988zM1756,988V367.3h2V988zM1759,988V365.9h2V988zM1761,988V364.7h2V988zM1763,988V363.3h2V988zM1766,988V362.4h2V988zM1768,988V361.1h2V988zM1770,988V360.8h2V988zM1773,988V360.4h2V988zM1775,988V360h2V988zM1777,988V359.8h2V988zM1780,988V359.6h2V988zM1782,988V359.3h2V988zM1785,988V358.7h2V988zM1787,988V358.1h2V988zM1789,988V357.6h2V988zM1792,988V357.3h2V988zM1794,988V357h2V988zM1796,988V356.8h2V988zM1799,988V356.7h2V988zM1801,988V356.6h2V988zM1803,988V385.6h2V988zM1806,988V385.2h2V988zM1808,988V383.4h2V988zM1810,988V380.9h2V988zM1813,988V376.8h2V988zM1815,988V375.2h2V988zM1818,988V372.8h2V988zM1820,988V371.5h2V988zM1822,988V370.4h2V988zM1825,988V370.1h2V988zM1827,988V369.7h2V988zM1829,988V369.3h2V988zM1832,988V368.6h2V988zM1834,988V367.8h2V988zM1836,988V367.1h2V988zM1839,988V366.1h2V988zM1841,988V363.4h2V988zM1843,988V360.7h2V988zM1846,988V359.5h2V988zM1848,988V358.1h2V988zM1851,988V355.5h2V988zM1853,988V353.9h2V988zM1855,988V351.8h2V988zM1858,988V349.3h2V988zM1860,988V368.9h2V988zM1862,988V366.7h2V988zM1865,988V365h2V988zM1867,988V364.1h2V988zM1869,988V363.6h2V988zM1872,988V359.2h2V988zM1874,988V353.7h2V988zM1876,988V351h2V988zM1879,988V345.3h2V988zM1881,988V344.8h2V988zM1884,988V344.8h2V988zM1886,988V345.3h2V988zM1888,988V345.7h2V988zM1891,988V345.4h2V988zM1893,988V345.1h2V988zM1895,988V342.4h2V988zM1898,988V342.1h2V988zM1900,988V337.6h2V988zM1902,988V335.3h2V988zM1905,988V333.2h2V988zM1907,988V330.9h2V988zM1910,988V328.9h2V988zM1912,988V323.6h2V988zM1914,988V323h2V988zM1917,988V351.3h2V988zM1919,988V344h2V988zM1921,988V342.4h2V988zM1924,988V341.7h2V988zM1926,988V341.2h2V988z" fill="#f9ad50" shape-rendering="crispEdges"/>
<path d="M235,988V532.9h1V988zM252,988V527.3h1V988zM262,988V514.3h1V988zM277,988V506.9h1V988zM287,988V499h1V988zM304,988V485.7h1V988zM314,988V478.3h1V988zM329,988V472.3h1V988zM339,988V483.7h1V988zM356,988V462.5h1V988zM366,988V456.6h1V988zM381,988V440.1h1V988zM391,988V451.6h1V988zM408,988V438.8h1V988zM418,988V429.4h1V988zM433,988V419.9h1V988zM442,988V413.5h1V988zM460,988V416.3h1V988zM469,988V419.8h1V988zM485,988V403.9h1V988zM494,988V396h1V988zM512,988V906.9h1V988zM521,988V886.5h1V988zM537,988V868.2h1V988zM546,988V865.8h1V988zM564,988V881h1V988zM573,988V874.7h1V988zM589,988V871.9h1V988zM598,988V925.8h1V988zM616,988V944.8h1V988zM625,988V943.2h1V988zM641,988V939.9h1V988zM650,988V934.9h1V988zM668,988V914.5h1V988zM677,988V913h1V988zM692,988V884h1V988zM702,988V877.2h1V988zM719,988V870.2h1V988zM729,988V877.7h1V988zM744,988V859.2h1V988zM754,988V851.1h1V988zM771,988V841.2h1V988zM781,988V836.3h1V988zM796,988V814.7h1V988zM806,988V804.2h1V988zM823,988V781.5h1V988zM833,988V776.4h1V988zM848,988V765.1h1V988zM858,988V752.5h1V988zM875,988V737.2h1V988zM885,988V735.7h1V988zM900,988V829h1V988zM909,988V817.4h1V988zM927,988V767.9h1V988zM936,988V762.6h1V988zM952,988V758.5h1V988zM961,988V774.2h1V988zM979,988V765.2h1V988zM988,988V764h1V988zM1004,988V747.6h1V988zM1013,988V762.2h1V988zM1031,988V747.2h1V988zM1040,988V742.1h1V988zM1056,988V723.5h1V988zM1065,988V713.4h1V988zM1083,988V682.1h1V988zM1092,988V667.5h1V988zM1108,988V651.2h1V988zM1117,988V645.8h1V988zM1135,988V650.5h1V988zM1144,988V620.6h1V988zM1159,988V613.8h1V988zM1169,988V608.9h1V988zM1186,988V621.2h1V988zM1196,988V607.1h1V988zM1211,988V577.6h1V988zM1221,988V573.2h1V988zM1238,988V592.8h1V988zM1248,988V580.8h1V988zM1263,988V543.8h1V988zM1273,988V537.9h1V988zM1290,988V518.6h1V988zM1300,988V635.9h1V988zM1315,988V586.4h1V988zM1325,988V548h1V988zM1342,988V523.9h1V988zM1352,988V566.6h1V988zM1367,988V547.6h1V988zM1376,988V539.1h1V988zM1394,988V522.5h1V988zM1403,988V508.6h1V988zM1419,988V527.8h1V988zM1428,988V516.3h1V988zM1446,988V471.5h1V988zM1455,988V459.5h1V988zM1471,988V472.2h1V988zM1480,988V454.7h1V988zM1498,988V447.9h1V988zM1507,988V417.7h1V988zM1523,988V435.2h1V988zM1532,988V419.5h1V988zM1550,988V387.7h1V988zM1559,988V368.9h1V988zM1575,988V358.4h1V988zM1584,988V373.5h1V988zM1602,988V345.6h1V988zM1611,988V342.9h1V988zM1626,988V342.2h1V988zM1636,988V351.2h1V988zM1653,988V323.9h1V988zM1663,988V308.4h1V988zM1678,988V289.6h1V988zM1688,988V284.9h1V988zM1705,988V375.6h1V988zM1715,988V348.4h1V988zM1730,988V340.6h1V988zM1740,988V338.8h1V988zM1757,988V367.3h1V988zM1767,988V362.4h1V988zM1782,988V359.3h1V988zM1792,988V357.3h1V988zM1809,988V383.4h1V988zM1819,988V372.8h1V988zM1834,988V367.8h1V988zM1843,988V360.7h1V988zM1861,988V368.9h1V988zM1870,988V363.6h1V988zM1886,988V345.3h1V988zM1895,988V342.4h1V988zM1913,988V323.6h1V988zM1922,988V342.4h1V988z" fill="#ee9f3d" shape-rendering="crispEdges"/>
<g color="#000" opacity="0.055" stroke-width="44" transform="translate(535,452.8) scale(0.4999,0.482)"><use href="#gn" width="2160" height="648"/></g>
<path d="M229.8,610.3 L233.3,614.5 L235.4,615.9 L237.5,620.1 L240.3,612.4 L243.8,615.2 L247.3,620.1 L251.5,615.2 L253.6,622.2 L255.7,637.6 L257.1,647.4 L259.9,652.3 L261.3,651.6 L263.4,640.4 L266.2,647.4 L268.3,662.8 L270.4,690.7 L272.5,701.2 L275.3,699.8 L277.4,707.5 L280.2,694.2 L282.3,692.1 L285.1,694.9 L287.2,683.7 L291.4,692.1 L296.3,704.7 L299.1,706.1 L301.2,713.8 L304,694.9 L306,689.3 L308.1,697 L310.9,698.4 L314.4,708.9 L317.9,722.9 L319.3,710.3 L322.8,704.7 L327,690.7 L329.8,685.8 L332.6,685.8 L334.7,690 L338.9,689.3 L343.8,690.7 L346.6,699.1 L348,693.5 L350.1,694.2 L352.2,711.7 L354.3,722.9 L357.8,729.9 L360.6,718.7 L363.4,714.5 L366.9,719.4 L371.8,706.8 L374.6,715.9 L376.7,728.5 L379.5,710.3 L381.6,701.9 L387.9,701.9 L390.7,699.1 L393.5,692.1 L397,688.6 L399.1,690 L400.5,695.6 L402.6,669.1 L404.7,679.5 L406.8,669.1 L409.6,667 L411.7,669.8 L414.5,676.8 L416.6,675.4 L420.1,679.5 L424.3,681.6 L427.1,690.7 L429.2,699.8 L430.6,693.5 L433.4,703.3 L435.5,727.1 L438.3,728.5 L440.4,733.4 L443.5,727.1 L447,730.6 L450.5,731.3 L454,744.6 L456.8,749.5 L459.6,732.7 L461.7,731.3 L463.8,748.8 L465.2,779.5 L465.9,813.1 L468,786.5 L469.4,785.8 L471.5,800.5 L473.6,803.3 L475,795.6 L477.8,795.6 L480.6,808.9 L483.4,790.7 L485.5,787.2 L489.7,790 L492.5,798.4 L494.6,800.5 L497.4,797.7 L500.2,797.7 L501.6,790 L503.7,790 L506.5,810.3 L510,796.3 L512.8,786.5 L514.2,787.9 L516.3,813.1 L519,807.5 L521.2,787.9 L523.3,780.2 L525.4,785.1 L528.1,801.9 L531.6,794.9 L536.5,788.6 L539.3,787.9 L542.1,794.2 L544.2,794.9 L547.7,788.6 L550.5,787.9 L554,792.1 L558.2,800.5 L560.3,799.8 L563.1,794.9 L565.2,797.7 L567.3,796.3 L571.5,799.1 L575,796.3 L579.9,795.6 L584.1,794.9 L586.9,795.6 L591.1,790 L594.6,789.3 L596.7,792.1 L598.1,797.7 L600.9,794.9 L603.7,795.6 L607.9,797.7 L612.1,793.5 L616.3,792.1 L619.8,797 L624.7,798.4 L626.8,785.1 L629.6,778.1 L633.1,771.9 L635.9,772.6 L641.5,769.1 L642.9,754.4 L645.7,753.7 L647.1,720.8 L649.2,714.5 L652.7,711 L654.8,722.2 L656.9,726.4 L660.4,723.6 L663.9,726.4 L666.7,729.9 L671.6,715.9 L679.3,715.9 L681.4,718.7 L683.4,684.7 L684.8,659.5 L686.2,658.8 L689,666.5 L690.6,670.7 L692.5,658.8 L695.3,659.5 L697.4,651.2 L699.5,651.2 L703.7,654.6 L706.5,651.2 L709.3,643.5 L712.1,643.5 L716.3,648.4 L719.1,656 L721.2,662.3 L724,663.7 L727.5,673.5 L729.6,681.9 L731,696.6 L733,691.7 L735.8,688.2 L738.6,688.9 L740.7,677.7 L742.6,672.1 L745,687.5 L747.7,695.2 L750.5,678.4 L753.3,656.7 L755.4,646.3 L757.3,642.8 L758.9,654.7 L761.7,663.7 L764.5,658.1 L768.7,645.6 L770.8,651.2 L773.6,655.4 L776.4,651.2 L778.5,644.2 L780.6,653.3 L782.4,647.7 L783.4,626 L784.4,598 L786.2,591 L787.6,588.2 L789.7,591.5 L791.5,578.2 L794.2,587.5 L796.3,574.9 L798.2,561.3 L803.1,554.3 L805.2,566.9 L806.6,577.4 L808.7,564.1 L812.2,556.4 L815.7,554.3 L818.1,548 L819.2,531.9 L820.3,524.2 L822.7,527.7 L825.5,521.4 L828.3,518.6 L831.8,521.4 L834.6,530.5 L836.7,523.5 L838.8,526.3 L842.3,520 L844.4,515.8 L846.5,523.5 L848.6,518.6 L850.7,499.8 L853.5,492.8 L856,516.5 L857.7,484.4 L860.5,489.3 L863.3,485.1 L865.4,469 L867.5,457.1 L869.6,462 L872.1,476.7 L874.5,475.3 L877,465.5 L879.3,476 L881.4,485.1 L884.2,476 L886.3,474.6 L889.8,481.6 L891.9,484.4 L894.7,485.1 L896.1,492.1 L898.9,477.4 L901,470.4 L903.1,468.3 L905.9,471.1 L910.1,469 L912.2,456.4 L913.2,440 L914,415.9 L915.7,406.1 L917.5,405.4 L919.6,421.5 L921.7,407.5 L924.5,402.6 L926.6,406.1 L928.7,413.1 L931.5,408.9 L934.3,416.6 L936.4,420.1 L938.5,427.1 L941.3,427.1 L943.4,414.5 L945.5,406.8 L948.3,406.1 L952.5,411.7 L956.7,415.2 L960.2,418.7 L962.3,423.6 L964.6,422.9 L966.5,410.3 L969.3,422.2 L972.1,429.2 L974.9,430.6 L978.4,435.5 L980.5,423.6 L983.3,425 L985.4,418.7 L988.1,413.8 L990.9,411.7 L993,419.4 L995.1,413.1 L996.3,374 L997.2,362.8 L999.3,371.2 L1000.7,346 L1001.9,329.9 L1004.2,330.6 L1007,334.8 L1009.8,343.9 L1011.9,347.4 L1013.3,374 L1014.4,394.2 L1016.1,394.2 L1018.6,381 L1021,390 L1023.8,390 L1026.6,394.9 L1028.4,401.2 L1030.4,385.8 L1032.9,392.1 L1035.4,395.6 L1037.8,408.2 L1039.9,404 L1042,401.2 L1044.1,386.5 L1046.9,378.9 L1049.4,382.3 L1051.1,362.8 L1053.9,360 L1056.7,367.7 L1059.2,376 L1061.6,376.7 L1063.4,365.6 L1065.8,381.6 L1068.6,367.7 L1070.7,364.9 L1073.5,363.5 L1075.6,357.9 L1077.7,348.8 L1079.8,332.7 L1081.9,348.1 L1084,337.6 L1086.8,320.8 L1088.9,325 L1091.4,304 L1093.8,320.8 L1096.6,327.8 L1099.4,332 L1101.5,333.4 L1103.2,343.9 L1105.7,337.6 L1108.5,343.2 L1110.6,355.1 L1113.4,353.7 L1116.2,348.8 L1118.3,351.6 L1120.4,365.6 L1122.2,373.3 L1125.3,367 L1132.3,350.2 L1134.4,334.8 L1136.5,351.6 L1138.6,387.9 L1140.9,425.7 L1143.5,430.6 L1146.3,448.1 L1148.4,455.8 L1150.5,435.5 L1153.3,424.3 L1156,421.5 L1158.1,421.5 L1160,441.8 L1162.3,424.3 L1165.1,422.9 L1167.2,420.8 L1169.3,441.1 L1172.1,425 L1174.2,441.8 L1176.3,429.2 L1179.1,434.8 L1181.3,410.8 L1183.7,407.3 L1186,394.7 L1188.6,396.8 L1191.3,404.5 L1194,405.2 L1196.3,414.7 L1198.4,417.8 L1201,384.8 L1202.8,362.4 L1205.2,379.9 L1207.7,381.3 L1209.7,397.4 L1211.9,386.2 L1214.3,386.2 L1216.7,384.1 L1219.2,398.1 L1222,407.2 L1224.1,433.7 L1226.9,419.8 L1229,418.4 L1231.5,419.8 L1233.9,424.7 L1236,425.4 L1238.1,444.2 L1241.6,423.9 L1244.4,407.2 L1247.2,375 L1250,407.2 L1252.1,442.8 L1254.9,448.4 L1256.7,485.5 L1259.3,451.9 L1261.9,461 L1264,453.3 L1266.7,447.7 L1270.9,430.9 L1273.5,430.2 L1275.8,428.8 L1278.6,432.3 L1280.7,449.8 L1283.3,450.5 L1285.6,442.1 L1287.7,435.1 L1289.8,439.3 L1292.4,454 L1294.5,433 L1296.8,443.5 L1298.9,437.9 L1306.6,431.6 L1308.7,462 L1310.8,498 L1313,529.5 L1315.8,549.1 L1318.6,563.1 L1320.7,582 L1322.1,620 L1323.1,647.4 L1325.2,660 L1328,661.4 L1329.7,687.9 L1332.6,700.3 L1334.6,739.2 L1337,681.5 L1339.8,706.4 L1342.4,688.5 L1344.4,704.6 L1347.2,714.5 L1349.2,763 L1351,735.5 L1354,720.7 L1356.8,710.3 L1360.5,705.2 L1363.4,709.6 L1366.9,719.8 L1368.1,721.9 L1371.2,718.2 L1374,717.4 L1375.4,718.5 L1377.4,735.8 L1379.7,765 L1381.6,749.3 L1384.2,745.4 L1386.9,757.2 L1389.2,786.3 L1391.6,777.3 L1393.9,773.4 L1396.1,757.2 L1398.2,734 L1401,726.4 L1403.8,728 L1406.8,736 L1408.2,739.3 L1410.3,725.2 L1412.8,727.2 L1415.3,724.2 L1417.9,726.4 L1419.9,740 L1421.6,718.4 L1423.3,699 L1424.5,680.9 L1426.6,657.2 L1429.4,664.2 L1432.2,660.7 L1434.6,646 L1436.4,632 L1439.2,629.2 L1441,622.2 L1443.4,629.2 L1445.5,621.5 L1448,608.2 L1450.8,621.5 L1453.9,634.8 L1457.4,639.7 L1459.5,623.6 L1462.3,618.7 L1465.8,623.6 L1469.3,636.2 L1472.1,653 L1474.2,648.8 L1476.3,619.4 L1478.4,657.2 L1481.2,648.8 L1484.7,633.4 L1488.2,622.9 L1491,604 L1493.1,606.1 L1495.9,607.5 L1499.4,617.3 L1502.9,628.5 L1505,646 L1507.1,665.6 L1509.9,672.6 L1513.4,690.7 L1516.2,708.9 L1518.6,726.4 L1521.1,724.3 L1523.8,740.8 L1526,757.4 L1528.1,738.2 L1530.9,753.4 L1533.7,742.8 L1535.6,731.8 L1537.6,693.5 L1540.4,708.3 L1542.5,695.3 L1544.9,694.3 L1547.3,700.3 L1549.9,691.4 L1554,682.3 L1557.5,687.9 L1560.3,690.7 L1563.8,694.9 L1565.9,718 L1568.7,708.9 L1572.2,706.1 L1575,704 L1578.2,690 L1580.5,703.3 L1584,718.6 L1587.9,727.4 L1591.8,743.8 L1594.9,754.4 L1597,755 L1599.7,740 L1601.7,736.1 L1605.2,743.8 L1608.7,752.9 L1611.5,757.1 L1613.6,757.1 L1615.7,765.5 L1617.8,745.2 L1620.6,734 L1623.4,741 L1625.5,748.7 L1628.3,749.4 L1630,729.8 L1632,761.3 L1633.9,757.8 L1636.7,745.2 L1639.5,735.4 L1641.6,736.1 L1643.7,734 L1646.5,752.2 L1648.8,762 L1650,787.2 L1651.4,820.7 L1653.5,802.6 L1655.6,829.8 L1658.4,818.6 L1660.5,830.5 L1662.6,843.1 L1665.4,825.6 L1667.9,844.5 L1670.2,829.1 L1672.3,815.8 L1675.8,813 L1679.4,804.4 L1682.6,816.6 L1685,827.8 L1686.5,861.5 L1688.7,902.1 L1690.8,925.9 L1693.6,941.3 L1695.7,934.3 L1697.8,907.7 L1699.9,918.2 L1702,906.3 L1703.7,901.4 L1705.5,923.1 L1706.9,886.7 L1707.6,874.4 L1709.6,886.2 L1712.7,882.4 L1715.2,880 L1717.6,884.2 L1719.7,865.7 L1721.9,858.6 L1724.3,868.5 L1726.8,884.2 L1729.2,869.8 L1731.1,862.8 L1733.7,878.2 L1735.8,865.6 L1738.4,882.8 L1740.7,872.6 L1743.2,872.6 L1746,876.2 L1749.5,871.2 L1752.9,868.8 L1755,861.4 L1759.2,869.8 L1762,867 L1764.8,870.9 L1767,877.2 L1769.7,872.6 L1772.2,871.2 L1774.6,866 L1778.8,862.5 L1782.6,863.2 L1785.5,869.5 L1790,872 L1793,860 L1795.6,867 L1798.8,872.3 L1802.2,875.1 L1804.5,883.5 L1806.3,858.3 L1809.4,842.2 L1812,845 L1814,850.2 L1816.2,834.8 L1819,825.8 L1823.2,819.4 L1825.4,807.9 L1827.9,796.3 L1830.5,808.8 L1835.4,814.4 L1837.5,803.3 L1840.3,817.9 L1842.4,834 L1844.7,834.7 L1846.6,815.1 L1847.6,800 L1849,772.7 L1852.3,756.9 L1854.2,742.4 L1855.9,739.1 L1859.5,744.4 L1862.8,750.3 L1865.4,756.9 L1868.1,750.3 L1870.4,754.2 L1872.7,747 L1875,742.7 L1877.9,744.4 L1879.9,754.2 L1882.2,770.7 L1884.2,758.8 L1885.2,751.6 L1887.8,752.9 L1889.5,747 L1891.4,762.1 L1894.1,755.5 L1896.4,760.8 L1899.7,765.4 L1900.6,777.9 L1902.9,787.8 L1905.2,800 L1907,811.2 L1908.4,840.6 L1910.5,852.5 L1913,843.4 L1915.8,835.7 L1918.2,847.6 L1920.3,844.8 L1922,824.5 L1924.5,821 L1927.3,814.7" fill="none" stroke="#000" stroke-width="3.4" stroke-linejoin="round" stroke-linecap="round"/>
<rect x="223" y="246" width="2.2" height="742" fill="#dfa65c"/>
<rect x="1937" y="246" width="1.9" height="742" fill="#000"/>
<g font-size="21" fill="#353a41"><text x="149.6" y="253" textLength="48.4" lengthAdjust="spacingAndGlyphs">560K</text><text x="149.6" y="320.4" textLength="48.4" lengthAdjust="spacingAndGlyphs">540K</text><text x="149.6" y="387.7" textLength="48.4" lengthAdjust="spacingAndGlyphs">520K</text><text x="149.6" y="455.1" textLength="48.4" lengthAdjust="spacingAndGlyphs">500K</text><text x="149.6" y="522.5" textLength="48.4" lengthAdjust="spacingAndGlyphs">480K</text><text x="149.6" y="589.8" textLength="48.4" lengthAdjust="spacingAndGlyphs">460K</text><text x="149.6" y="657.2" textLength="48.4" lengthAdjust="spacingAndGlyphs">440K</text><text x="149.6" y="724.5" textLength="48.4" lengthAdjust="spacingAndGlyphs">420K</text><text x="149.6" y="791.9" textLength="48.4" lengthAdjust="spacingAndGlyphs">400K</text><text x="149.6" y="859.3" textLength="48.4" lengthAdjust="spacingAndGlyphs">380K</text><text x="149.6" y="926.6" textLength="48.4" lengthAdjust="spacingAndGlyphs">360K</text><text x="149.6" y="994" textLength="48.4" lengthAdjust="spacingAndGlyphs">340K</text><text x="1962" y="253" textLength="54.6" lengthAdjust="spacingAndGlyphs">$128k</text><text x="1962" y="312.3" textLength="54.6" lengthAdjust="spacingAndGlyphs">$126k</text><text x="1962" y="371.7" textLength="54.6" lengthAdjust="spacingAndGlyphs">$124k</text><text x="1962" y="431" textLength="54.6" lengthAdjust="spacingAndGlyphs">$122k</text><text x="1962" y="490.3" textLength="54.6" lengthAdjust="spacingAndGlyphs">$120k</text><text x="1962" y="549.7" textLength="54.6" lengthAdjust="spacingAndGlyphs">$118k</text><text x="1962" y="609" textLength="54.6" lengthAdjust="spacingAndGlyphs">$116k</text><text x="1962" y="668.3" textLength="54.6" lengthAdjust="spacingAndGlyphs">$114k</text><text x="1962" y="727.7" textLength="54.6" lengthAdjust="spacingAndGlyphs">$112k</text><text x="1962" y="787" textLength="54.6" lengthAdjust="spacingAndGlyphs">$110k</text><text x="1962" y="846.3" textLength="54.6" lengthAdjust="spacingAndGlyphs">$108k</text><text x="1962" y="905.7" textLength="54.6" lengthAdjust="spacingAndGlyphs">$106k</text><text x="1962" y="965" textLength="54.6" lengthAdjust="spacingAndGlyphs">$104k</text><text x="223.7" y="1032.3" textLength="65.8" lengthAdjust="spacingAndGlyphs">22 Sep</text><text x="336.9" y="1032.3" textLength="65.8" lengthAdjust="spacingAndGlyphs">24 Sep</text><text x="450.1" y="1032.3" textLength="65.8" lengthAdjust="spacingAndGlyphs">26 Sep</text><text x="563.3" y="1032.3" textLength="65.8" lengthAdjust="spacingAndGlyphs">28 Sep</text><text x="676.5" y="1032.3" textLength="65.8" lengthAdjust="spacingAndGlyphs">30 Sep</text><text x="789.7" y="1032.3" textLength="65.8" lengthAdjust="spacingAndGlyphs">02 Oct</text><text x="902.9" y="1032.3" textLength="65.8" lengthAdjust="spacingAndGlyphs">04 Oct</text><text x="1016.1" y="1032.3" textLength="65.8" lengthAdjust="spacingAndGlyphs">06 Oct</text><text x="1129.3" y="1032.3" textLength="65.8" lengthAdjust="spacingAndGlyphs">08 Oct</text><text x="1242.5" y="1032.3" textLength="65.8" lengthAdjust="spacingAndGlyphs">10 Oct</text><text x="1355.7" y="1032.3" textLength="65.8" lengthAdjust="spacingAndGlyphs">12 Oct</text><text x="1468.9" y="1032.3" textLength="65.8" lengthAdjust="spacingAndGlyphs">14 Oct</text><text x="1582.1" y="1032.3" textLength="65.8" lengthAdjust="spacingAndGlyphs">16 Oct</text><text x="1695.3" y="1032.3" textLength="65.8" lengthAdjust="spacingAndGlyphs">18 Oct</text><text x="1808.5" y="1032.3" textLength="65.8" lengthAdjust="spacingAndGlyphs">20 Oct</text></g>
<text x="53.6" y="1160.9" font-size="28.2" fill="#7f7f7f" textLength="484.5" lengthAdjust="spacingAndGlyphs">© 2025 Glassnode. All Rights Reserved.</text>
<g color="#1b1b1b" stroke-width="40" transform="translate(1820,1110) scale(0.138889)"><use href="#gn" width="2160" height="648"/></g>
</svg>
</body></html>
